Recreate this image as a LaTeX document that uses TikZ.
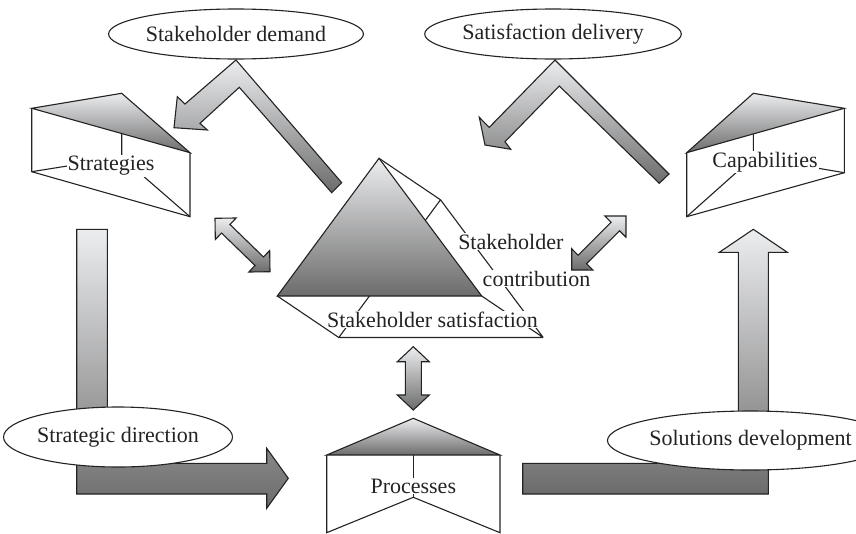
\documentclass[tikz,border=0pt]{standalone}
\usepackage{fontspec}
\setmainfont{Liberation Serif}
\usetikzlibrary{calc,shapes.geometric}
\definecolor{lightg}{RGB}{236,237,239}
\definecolor{darkg}{RGB}{108,108,108}
\definecolor{ink}{RGB}{35,35,35}
\newcommand\dblarr[6]{%
  \coordinate (#1a1) at ($(#2)!#4!(#3)$);
  \coordinate (#1b1) at ($(#3)!#4!(#2)$);
  \draw[shd] (#2) -- ($(#1a1)!#5!90:(#3)$) -- ($(#1a1)!#6!90:(#3)$)
    -- ($(#1b1)!#6!-90:(#2)$) -- ($(#1b1)!#5!-90:(#2)$) -- (#3)
    -- ($(#1b1)!#5!90:(#2)$) -- ($(#1b1)!#6!90:(#2)$)
    -- ($(#1a1)!#6!-90:(#3)$) -- ($(#1a1)!#5!-90:(#3)$) -- cycle;}
\begin{document}
\begin{tikzpicture}[x=1pt,y=-1pt,line join=miter,
  ln/.style={draw=ink,line width=1.1pt},
  shd/.style={ln,top color=lightg,bottom color=darkg},
  lbl/.style={font=\fontsize{22}{26}\selectfont,text=ink,inner sep=1pt},
  wlbl/.style={lbl,fill=white},
  oval/.style={ellipse,ln,fill=white,inner sep=0pt,font=\fontsize{22}{26}\selectfont,text=ink}]
\useasboundingbox (0,0) rectangle (856,533);

% ---- L-shaped arrows
\draw[shd] (76.7,229.3) -- (107.3,229.3) -- (107.3,463.3) -- (266.7,463.3) -- (266.7,448.3)
  -- (288.3,478.3) -- (266.7,508.3) -- (266.7,494) -- (76.7,494) -- cycle;
\draw[shd] (522.7,494) -- (768.3,494) -- (768.3,252.3) -- (787.3,252.3) -- (753.3,229.3)
  -- (719.3,252.3) -- (738.3,252.3) -- (738.3,463.3) -- (522.7,463.3) -- cycle;

% ---- bent arrows
\draw[shd] (236,60) -- (185,104) -- (177.3,96.7) -- (174,127.7) -- (207.3,130) -- (200,123.3)
  -- (239.3,87.3) -- (331.7,192.7) -- (341.7,182.7) -- cycle;
\draw[shd] (555,60) -- (489.2,127.4) -- (479.3,117.3) -- (485,145) -- (510.7,149.3) -- (505,141.7)
  -- (559.3,86) -- (659.3,183.3) -- (669,174) -- cycle;

% ---- ellipses
\node[oval,minimum width=212pt,minimum height=50pt] (demand) at (236,34) {Stakeholder demand};
\node[oval,minimum width=212pt,minimum height=50pt] (deliv) at (553,34) {Satisfaction delivery};
\node[oval,minimum width=222pt,minimum height=60pt] (sdir) at (118,437) {Strategic direction};
\node[oval,minimum width=215pt,minimum height=59pt] (soldev) at (750.5,440.5) {Solutions development};

% ---- Strategies prism
\coordinate (sA) at (31.7,108.3); \coordinate (sB) at (121.7,93.3); \coordinate (sC) at (190,152.7);
\coordinate (sA2) at (31.7,171.7); \coordinate (sB2) at (121.7,157.3); \coordinate (sC2) at (190,216.7);
\draw[ln] (sB2) -- (sA2) (sB2) -- (sC2) (sB2) -- (sB);
\node[wlbl] (strat) at (111,166) {Strategies};
\draw[ln] (sA) -- (sA2) -- (sC2) -- (sC);
\draw[shd] (sA) -- (sB) -- (sC) -- cycle;

% ---- Capabilities prism
\coordinate (cA) at (686.7,152.7); \coordinate (cB) at (753.3,93.3); \coordinate (cC) at (844.3,108.3);
\coordinate (cA2) at (686.7,216.7); \coordinate (cB2) at (753.3,157.3); \coordinate (cC2) at (844.3,172.7);
\draw[ln] (cB2) -- (cA2) (cB2) -- (cC2) (cB2) -- (cB);
\node[wlbl] (capa) at (765,162) {Capabilities};
\draw[ln] (cA) -- (cA2) -- (cC2) -- (cC);
\draw[shd] (cA) -- (cB) -- (cC) -- cycle;

% ---- Stakeholder satisfaction prism
\coordinate (T) at (379,158.3); \coordinate (TL) at (277.3,296); \coordinate (TR) at (481.7,296);
\coordinate (T2) at (440.5,199.8); \coordinate (BL2) at (338.8,337.5); \coordinate (BR2) at (543.2,337.5);
\draw[ln] (T) -- (T2) (TL) -- (BL2) -- (BR2) (TR) -- (BR2) (T2) -- (BR2) (T2) -- (BL2);
\node[wlbl] (ssat) at (432.5,319.5) {Stakeholder satisfaction};
\node[wlbl] (scon1) at (510.8,241.5) {Stakeholder};
\node[wlbl] (scon2) at (536.5,278.5) {contribution};
\draw[shd] (T) -- (TL) -- (TR) -- cycle;

% ---- Processes
\coordinate (pT) at (413.3,418.3); \coordinate (pL) at (326.7,455); \coordinate (pR) at (500,455);
\coordinate (pL2) at (326.7,532.7); \coordinate (pV) at (413.3,497.3); \coordinate (pR2) at (500,532.7);
\coordinate (pM) at (413.3,455);
\draw[ln] (pM) -- (pV);
\node[wlbl] (proc) at (413.3,486) {Processes};
\draw[ln] (pL) -- (pL2) -- (pV) -- (pR2) -- (pR);
\draw[shd] (pT) -- (pL) -- (pR) -- cycle;

% ---- double arrows
\coordinate (d1a) at (215,218.3); \coordinate (d1b) at (270,271.7);
\coordinate (d2a) at (626,216); \coordinate (d2b) at (571.7,270);
\coordinate (d3a) at (413.3,346.7); \coordinate (d3b) at (413.3,410);
\dblarr{q1}{d1a}{d1b}{15pt}{15pt}{6pt}
\dblarr{q2}{d2a}{d2b}{15pt}{15pt}{6pt}
\dblarr{q3}{d3a}{d3b}{15pt}{16pt}{8pt}
\end{tikzpicture}
\end{document}
